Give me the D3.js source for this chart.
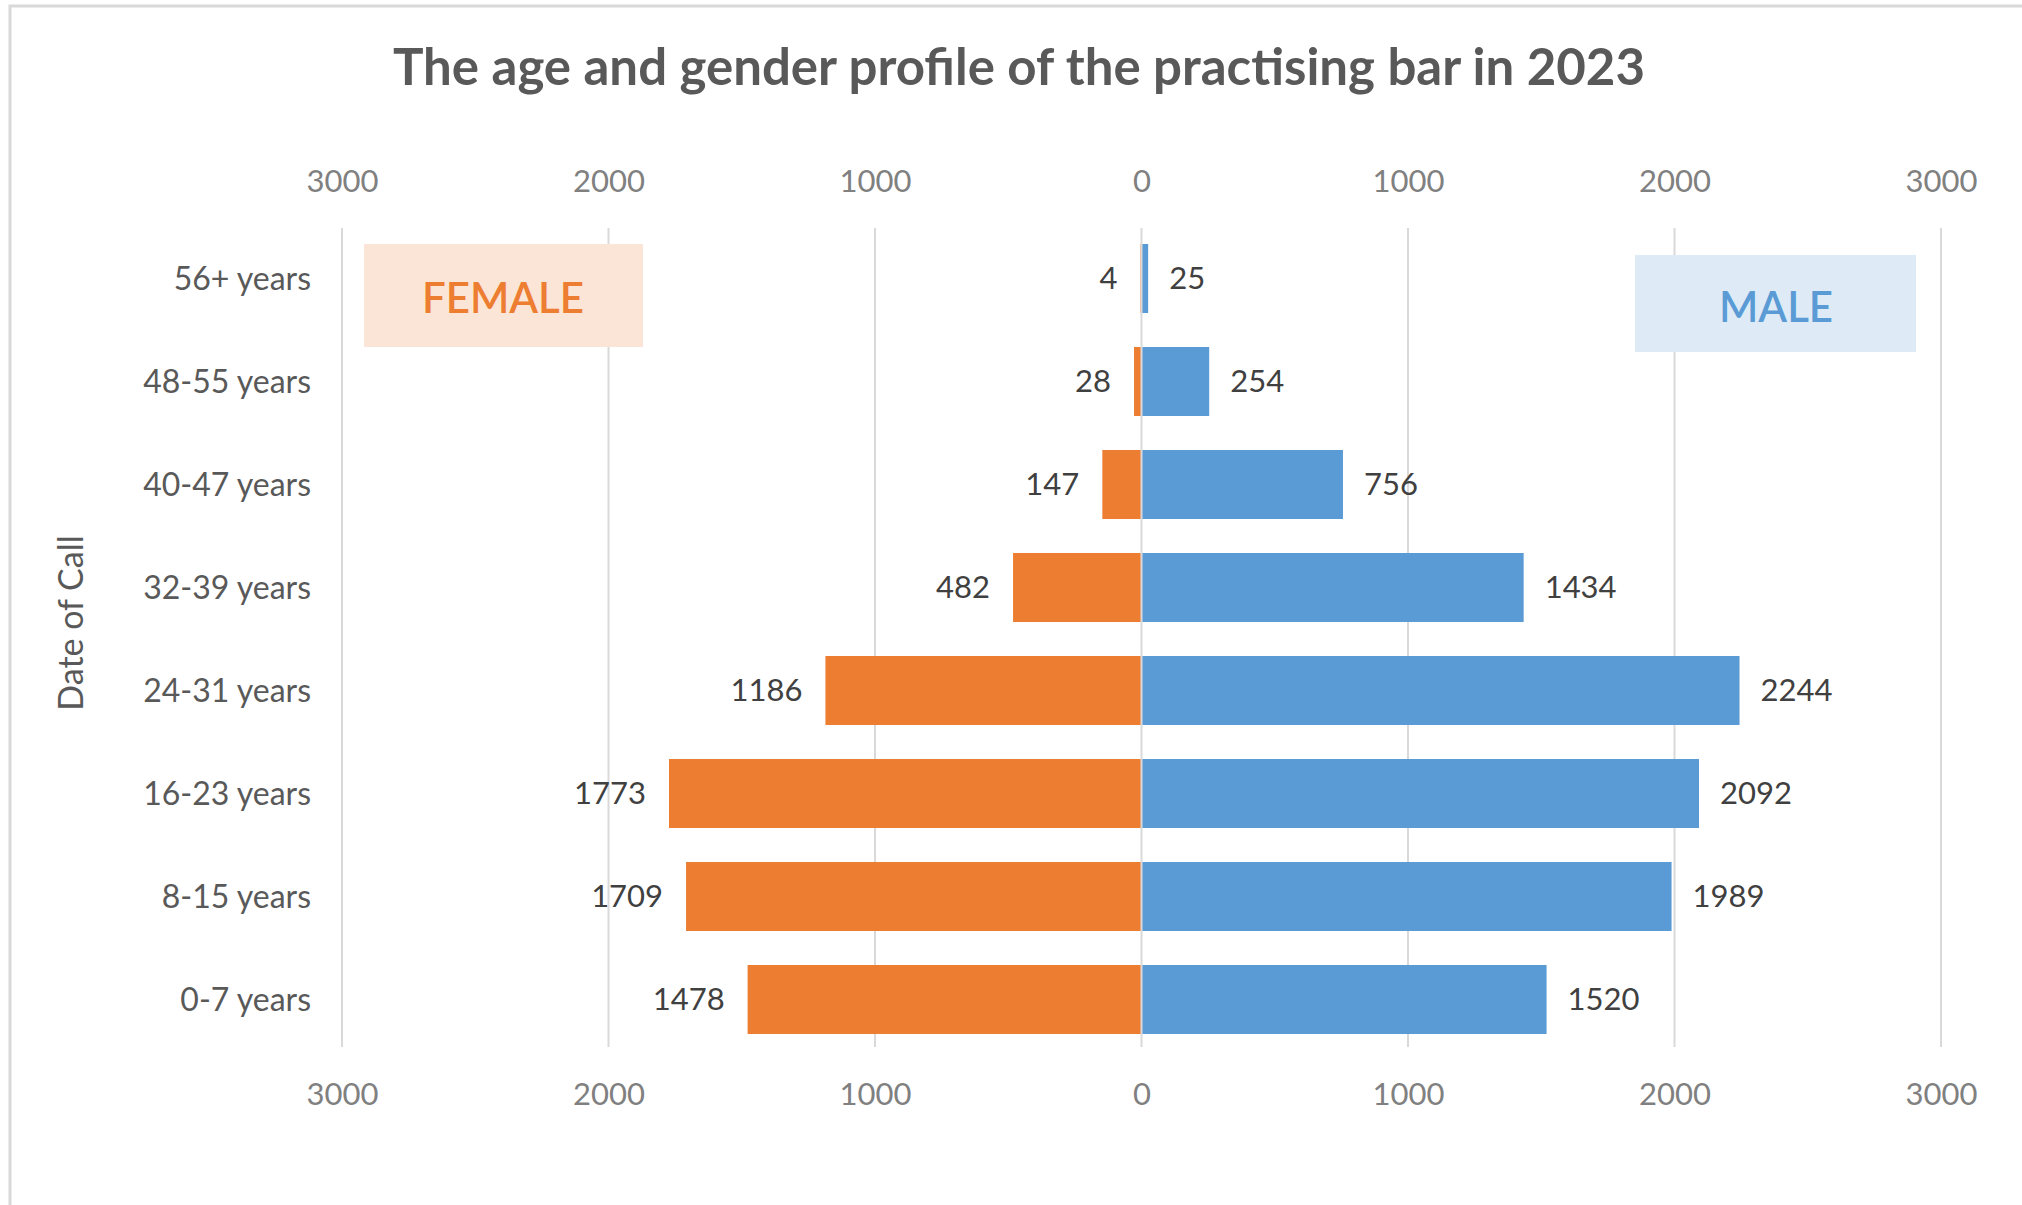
<!DOCTYPE html>
<html>
<head>
<meta charset="utf-8">
<title>Age and gender profile of the practising bar 2023</title>
<script src="https://cdn.jsdelivr.net/npm/d3@7/dist/d3.min.js"></script>
<style>
body {
  margin: 0;
  background: #ffffff;
}
svg text {
  font-family: Lato, "Open Sans", sans-serif;
}
.tick text {
  fill: #808080;
  font-size: 31px;
}
</style>
</head>
<body>
<script>
// categories listed top to bottom, as in the picture
var ageBands = ["56+ years", "48-55 years", "40-47 years", "32-39 years",
  "24-31 years", "16-23 years", "8-15 years", "0-7 years"];
var female = [4, 28, 147, 482, 1186, 1773, 1709, 1478];
var male = [25, 254, 756, 1434, 2244, 2092, 1989, 1520];
var tickValues = [-3000, -2000, -1000, 0, 1000, 2000, 3000];

var width = 2022, height = 1205;
var orange = "#ED7D31", blue = "#5B9BD5";

var svg = d3.select("body").append("svg")
  .attr("width", width)
  .attr("height", height);

// chart frame
svg.append("rect")
  .attr("x", 10).attr("y", 6)
  .attr("width", width).attr("height", height)
  .attr("fill", "#fff")
  .attr("stroke", "#d9d9d9")
  .attr("stroke-width", 3);

var x = d3.scaleLinear().domain([-3000, 3000]).range([342, 1941]);
var y = d3.scaleBand().domain(ageBands).range([227, 1051])
  .paddingInner(0.33).paddingOuter(0.165);

svg.append("text")
  .attr("x", 1019).attr("y", 85)
  .attr("text-anchor", "middle")
  .style("font-size", "51px")
  .style("font-weight", "bold")
  .style("fill", "#595959")
  .text("The age and gender profile of the practising bar in 2023");

// gridlines
svg.append("g").selectAll("line")
  .data(tickValues.filter(function(d){ return d !== 0; }))
  .enter().append("line")
    .attr("x1", function(d){ return x(d); })
    .attr("x2", function(d){ return x(d); })
    .attr("y1", 228).attr("y2", 1047)
    .attr("stroke", "#d9d9d9")
    .attr("stroke-width", 2);

// axes (labels only)
var fmt = function(d){ return Math.abs(d); };
var topAxis = svg.append("g")
  .attr("transform", "translate(0,192)")
  .call(d3.axisTop(x).tickValues(tickValues).tickFormat(fmt).tickSize(0).tickPadding(0));
var bottomAxis = svg.append("g")
  .attr("transform", "translate(0,1083)")
  .call(d3.axisBottom(x).tickValues(tickValues).tickFormat(fmt).tickSize(0).tickPadding(0));
topAxis.select(".domain").remove();
bottomAxis.select(".domain").remove();
svg.selectAll(".tick text").attr("font-family", null).attr("font-size", null);

// category labels
svg.append("g").selectAll("text")
  .data(ageBands)
  .enter().append("text")
    .attr("x", 311)
    .attr("y", function(d){ return y(d) + y.bandwidth() / 2; })
    .attr("dy", "0.35em")
    .attr("text-anchor", "end")
    .style("font-size", "32px")
    .style("fill", "#595959")
    .text(function(d){ return d; });

svg.append("text")
  .attr("transform", "translate(71,623) rotate(-90)")
  .attr("dy", "0.35em")
  .attr("text-anchor", "middle")
  .style("font-size", "34px")
  .style("fill", "#595959")
  .text("Date of Call");

// legend boxes
svg.append("rect")
  .attr("x", 364).attr("y", 244).attr("width", 279).attr("height", 103)
  .attr("fill", "#FBE5D6");
svg.append("text")
  .attr("x", 503).attr("y", 298).attr("dy", "0.35em")
  .attr("text-anchor", "middle")
  .style("font-size", "42px")
  .style("font-weight", "600")
  .style("fill", orange)
  .text("FEMALE");
svg.append("rect")
  .attr("x", 1635).attr("y", 255).attr("width", 281).attr("height", 97)
  .attr("fill", "#DEEBF7");
svg.append("text")
  .attr("x", 1776).attr("y", 307).attr("dy", "0.35em")
  .attr("text-anchor", "middle")
  .style("font-size", "42px")
  .style("font-weight", "600")
  .style("fill", blue)
  .text("MALE");

// bars
var rows = ageBands.map(function(a, i){ return {age: a, f: female[i], m: male[i]}; });

svg.append("g").selectAll("rect")
  .data(rows)
  .enter().append("rect")
    .attr("x", function(d){ return x(-d.f); })
    .attr("y", function(d){ return y(d.age); })
    .attr("width", function(d){ return x(0) - x(-d.f); })
    .attr("height", y.bandwidth())
    .attr("fill", orange);

svg.append("g").selectAll("rect")
  .data(rows)
  .enter().append("rect")
    .attr("x", x(0))
    .attr("y", function(d){ return y(d.age); })
    .attr("width", function(d){ return x(d.m) - x(0); })
    .attr("height", y.bandwidth())
    .attr("fill", blue);

// zero line on top of bars
svg.append("line")
  .attr("x1", x(0)).attr("x2", x(0))
  .attr("y1", 228).attr("y2", 1047)
  .attr("stroke", "#d9d9d9")
  .attr("stroke-width", 2);

// data labels
svg.append("g").selectAll("text")
  .data(rows)
  .enter().append("text")
    .attr("x", function(d){ return x(-d.f) - 23; })
    .attr("y", function(d){ return y(d.age) + y.bandwidth() / 2; })
    .attr("dy", "0.35em")
    .attr("text-anchor", "end")
    .style("font-size", "31px")
    .style("fill", "#404040")
    .text(function(d){ return d.f; });

svg.append("g").selectAll("text")
  .data(rows)
  .enter().append("text")
    .attr("x", function(d){ return x(d.m) + 21; })
    .attr("y", function(d){ return y(d.age) + y.bandwidth() / 2; })
    .attr("dy", "0.35em")
    .style("font-size", "31px")
    .style("fill", "#404040")
    .text(function(d){ return d.m; });
</script>
</body>
</html>
